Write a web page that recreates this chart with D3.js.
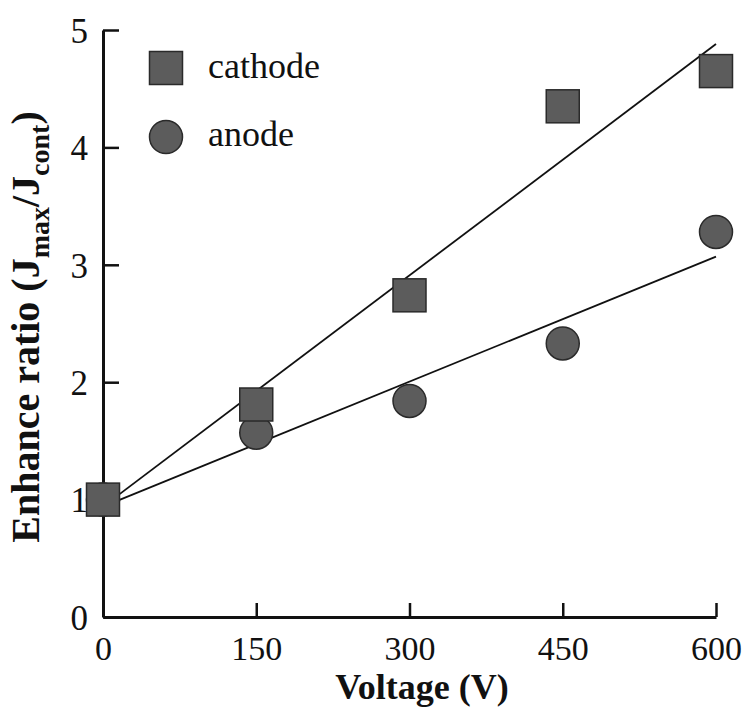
<!DOCTYPE html>
<html>
<head>
<meta charset="utf-8">
<script src="https://cdn.jsdelivr.net/npm/d3@7"></script>
<style>
  html, body { margin: 0; padding: 0; background: #fff; }
  svg { display: block; }
  text { font-family: "Liberation Serif", "Times New Roman", serif; fill: #111; }
</style>
</head>
<body>
<svg id="chart" width="747" height="709"></svg>
<script>
// ---- data ----
const voltages = [0, 150, 300, 450, 600];
const cathodeValues = [1.0, 1.81, 2.74, 4.35, 4.65];
const anodeValues = [1.0, 1.57, 1.84, 2.33, 3.28];
const cathodeFit = [[0, 0.94], [600, 4.88]];
const anodeFit = [[0, 0.94], [600, 3.07]];
const xTicks = [0, 150, 300, 450, 600];
const yTicks = [0, 1, 2, 3, 4, 5];
const seriesNames = ["cathode", "anode"];

const svg = d3.select("#chart");
const x = d3.scaleLinear().domain([0, 600]).range([103, 716]);
const y = d3.scaleLinear().domain([0, 5]).range([617, 30]);

// axes
const xAxis = d3.axisBottom(x).tickValues(xTicks).tickFormat(d3.format("d")).tickSize(-14).tickSizeOuter(0);
const yAxis = d3.axisLeft(y).tickValues(yTicks).tickFormat(d3.format("d")).tickSize(-16).tickSizeOuter(0);

const gx = svg.append("g").attr("transform", `translate(0,${y(0)})`).call(xAxis);
const gy = svg.append("g").attr("transform", `translate(${x(0)},0)`).call(yAxis);
[gx, gy].forEach(g => {
  g.select(".domain").attr("stroke", "#111").attr("stroke-width", 3);
  g.selectAll(".tick line").attr("stroke", "#111").attr("stroke-width", 2.5);
  g.selectAll(".tick text").style("font-family", "'Liberation Serif', serif").style("font-size", "35px").attr("fill", "#111");
});
gx.selectAll(".tick text").attr("y", 43).attr("dy", "0").style("font-size", "34px");
gy.selectAll(".tick text").attr("dy", "0.35em").attr("x", -15);

// fit lines
const line = d3.line().x(d => x(d[0])).y(d => y(d[1]));
[cathodeFit, anodeFit].forEach(f => {
  svg.append("path").attr("d", line(f)).attr("fill", "none").attr("stroke", "#111").attr("stroke-width", 1.8);
});

const markerFill = "#5c5c5c", markerStroke = "#2a2a2a";
const sq = 33, r = 16.5;

// anode points
svg.append("g").selectAll("circle").data(voltages.map((v, i) => [v, anodeValues[i]]))
  .join("circle").attr("cx", d => x(d[0])).attr("cy", d => y(d[1])).attr("r", r)
  .attr("fill", markerFill).attr("stroke", markerStroke).attr("stroke-width", 1.5);

// cathode points
svg.append("g").selectAll("rect").data(voltages.map((v, i) => [v, cathodeValues[i]]))
  .join("rect").attr("x", d => x(d[0]) - sq / 2).attr("y", d => y(d[1]) - sq / 2)
  .attr("width", sq).attr("height", sq)
  .attr("fill", markerFill).attr("stroke", markerStroke).attr("stroke-width", 1.5);

// legend
const lg = svg.append("g");
lg.append("rect").attr("x", 166 - sq / 2).attr("y", 68 - sq / 2).attr("width", sq).attr("height", sq)
  .attr("fill", markerFill).attr("stroke", markerStroke).attr("stroke-width", 1.5);
lg.append("circle").attr("cx", 166).attr("cy", 137).attr("r", r)
  .attr("fill", markerFill).attr("stroke", markerStroke).attr("stroke-width", 1.5);
lg.append("text").attr("x", 208).attr("y", 78).style("font-size", "36px").text(seriesNames[0]);
lg.append("text").attr("x", 208).attr("y", 146).style("font-size", "36px").text(seriesNames[1]);

// axis titles
svg.append("text").attr("x", 422).attr("y", 699).attr("text-anchor", "middle")
  .style("font-size", "36px").style("font-weight", "bold").text("Voltage (V)");

const yt = svg.append("text").attr("transform", "translate(39,327) rotate(-90)").attr("text-anchor", "middle")
  .style("font-size", "40px").style("font-weight", "bold");
yt.append("tspan").text("Enhance ratio (J");
yt.append("tspan").attr("dy", 10).style("font-size", "28px").text("max");
yt.append("tspan").attr("dy", -10).text("/J");
yt.append("tspan").attr("dy", 10).style("font-size", "28px").text("cont");
yt.append("tspan").attr("dy", -10).text(")");
</script>
</body>
</html>
